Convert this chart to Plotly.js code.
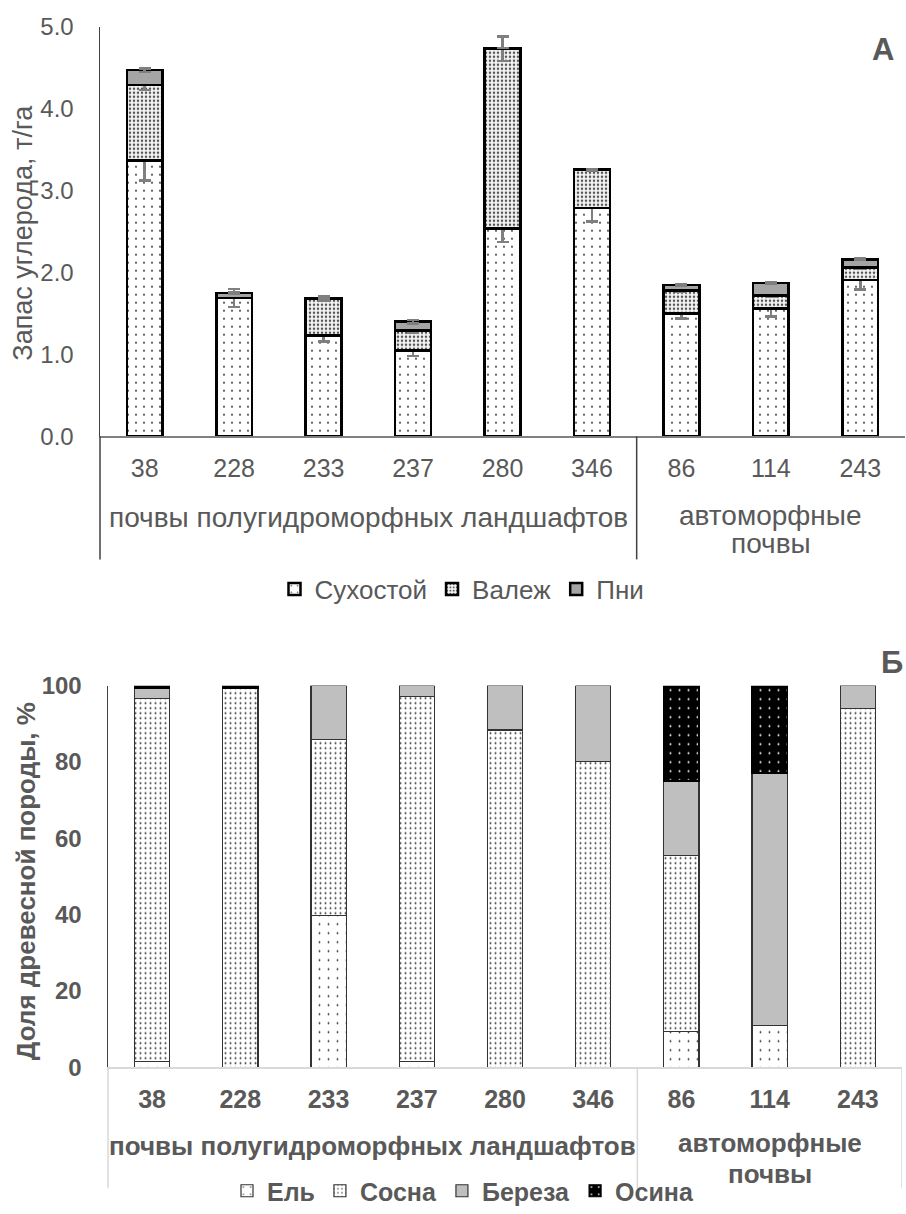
<!DOCTYPE html>
<html><head><meta charset="utf-8">
<script src="https://cdn.plot.ly/plotly-3.0.1.min.js"></script>
<style>html,body{margin:0;padding:0;background:#fff}#chart{width:906px;height:1214px}</style>
</head><body><div id="chart"></div>
<script>
// ---- data ----
const categories = ['38','228','233','237','280','346','86','114','243'];
const groupSemi = 'почвы полугидроморфных ландшафтов';
const groupAuto1 = 'автоморфные';
const groupAuto2 = 'почвы';

// Panel A: carbon stock, t/ha
const suhostoy    = [3.37, 1.69, 1.23, 1.05, 2.54, 2.79, 1.50, 1.56, 1.91];
const suhostoyErr = [0.25, 0.11, 0.07, 0.07, 0.17, 0.17, 0.06, 0.10, 0.12];
const valezh      = [0.92, 0.00, 0.45, 0.24, 2.19, 0.46, 0.28, 0.16, 0.15];
const valezhErr   = [0.06, 0.00, 0.03, 0.02, 0.15, 0.01, 0.02, 0.01, 0.02];
const pni         = [0.18, 0.06, 0.01, 0.11, 0.01, 0.01, 0.07, 0.15, 0.10];
const pniErr      = [0.02, 0.01, 0.01, 0.02, 0.00, 0.00, 0.01, 0.01, 0.01];

// Panel Б: tree species share, %
const el     = [1.5, 0.0, 39.8, 1.5, 0.0, 0.0, 9.3, 11.0, 0.0];
const sosna  = [95.1, 99.4, 46.1, 95.6, 88.4, 80.1, 46.2, 0.0, 94.1];
const bereza = [2.6, 0.0, 14.1, 2.9, 11.6, 19.9, 19.5, 66.1, 5.9];
const osina  = [0.8, 0.6, 0.0, 0.0, 0.0, 0.0, 25.0, 22.9, 0.0];

// ---- helpers ----
const W = 906, H = 1214;
const px = x => x / W;
const py = y => (H - y) / H;
const grey = '#595959';
const FONT = 'Arial, "Liberation Sans", sans-serif';

function errBar(arr){
  return {type:'data', array:arr, visible:true, color:'#7f7f7f', thickness:2.5, width:6};
}
const lineA = {color:'#000', width:2.5};
const lineB = {color:'#333', width:1.2};

const traces = [
  {type:'bar', name:'Сухостой', x:categories, y:suhostoy, xaxis:'x', yaxis:'y', legend:'legend',
   marker:{color:'#fff', line:lineA, pattern:{shape:'.', fgcolor:'#222', bgcolor:'#fff', size:8, solidity:0.04}},
   error_y:errBar(suhostoyErr), hoverinfo:'skip'},
  {type:'bar', name:'Валеж', x:categories, y:valezh, xaxis:'x', yaxis:'y', legend:'legend',
   marker:{color:'#fff', line:lineA, pattern:{shape:'.', fgcolor:'#555', bgcolor:'#f4f4f4', size:4, solidity:0.32}},
   error_y:errBar(valezhErr), hoverinfo:'skip'},
  {type:'bar', name:'Пни', x:categories, y:pni, xaxis:'x', yaxis:'y', legend:'legend',
   marker:{color:'#a5a5a5', line:lineA},
   error_y:errBar(pniErr), hoverinfo:'skip'},

  {type:'bar', name:'Ель', x:categories, y:el, xaxis:'x2', yaxis:'y2', legend:'legend2',
   marker:{color:'#fff', line:lineB, pattern:{shape:'.', fgcolor:'#222', bgcolor:'#fff', size:9, solidity:0.03}}, hoverinfo:'skip'},
  {type:'bar', name:'Сосна', x:categories, y:sosna, xaxis:'x2', yaxis:'y2', legend:'legend2',
   marker:{color:'#fff', line:lineB, pattern:{shape:'.', fgcolor:'#333', bgcolor:'#fff', size:5, solidity:0.12}}, hoverinfo:'skip'},
  {type:'bar', name:'Береза', x:categories, y:bereza, xaxis:'x2', yaxis:'y2', legend:'legend2',
   marker:{color:'#bfbfbf', line:lineB}, hoverinfo:'skip'},
  {type:'bar', name:'Осина', x:categories, y:osina, xaxis:'x2', yaxis:'y2', legend:'legend2',
   marker:{color:'#000', line:{color:'#000', width:1.2}, pattern:{shape:'.', fgcolor:'#fff', bgcolor:'#000', size:9, solidity:0.04}}, hoverinfo:'skip'}
];

const lightLine = {color:'#d9d9d9', width:1.5};
const darkLine = {color:'#404040', width:1.5};

const layout = {
  width:W, height:H, autosize:false,
  margin:{l:0, r:0, t:0, b:0},
  paper_bgcolor:'#fff', plot_bgcolor:'rgba(0,0,0,0)',
  font:{family:FONT, color:grey},
  barmode:'stack', bargap:0.6,
  showlegend:true,
  xaxis:{domain:[px(100), px(905)], anchor:'y', type:'category', range:[-0.5, 8.5],
         showline:true, linecolor:'#808080', linewidth:1.5, ticks:'', showgrid:false,
         tickfont:{size:25, color:grey}, ticklabelstandoff:9, fixedrange:true},
  yaxis:{domain:[py(440.7), py(27)], anchor:'x', range:[0,5], dtick:1, tickformat:'.1f',
         showline:true, linecolor:'#404040', linewidth:1.5, showgrid:false, zeroline:false, ticks:'',
         tickfont:{size:24, color:grey}, ticklabelstandoff:20, fixedrange:true},
  xaxis2:{domain:[px(108), px(902)], anchor:'y2', type:'category', range:[-0.5, 8.5],
         showline:true, linecolor:'#d9d9d9', linewidth:1.5, ticks:'', showgrid:false,
         tickfont:{size:25, color:grey, weight:'bold'}, ticklabelstandoff:9, fixedrange:true},
  yaxis2:{domain:[py(1078), py(692.5)], anchor:'x2', range:[0,100], dtick:20,
         showline:true, linecolor:'#404040', linewidth:1.5, showgrid:false, zeroline:false, ticks:'',
         tickfont:{size:24, color:grey, weight:'bold'}, ticklabelstandoff:20, fixedrange:true},
  legend:{orientation:'h', x:px(462), xanchor:'center', y:py(595), yanchor:'middle',
          font:{size:26, color:grey}, traceorder:'normal', bgcolor:'rgba(0,0,0,0)', itemwidth:30},
  legend2:{orientation:'h', x:px(463), xanchor:'center', y:py(1203), yanchor:'middle',
          font:{size:25, color:grey, weight:'bold'}, traceorder:'normal', bgcolor:'rgba(0,0,0,0)', itemwidth:30},
  shapes:[
    {type:'line', xref:'paper', yref:'paper', x0:px(100), x1:px(100), y0:py(440.7), y1:py(565), line:darkLine},
    {type:'line', xref:'x', yref:'paper', x0:5.5, x1:5.5, y0:py(440.7), y1:py(565), line:darkLine},
    {type:'line', xref:'paper', yref:'paper', x0:px(108), x1:px(108), y0:py(1078), y1:py(1200), line:lightLine},
    {type:'line', xref:'x2', yref:'paper', x0:5.5, x1:5.5, y0:py(1078), y1:py(1200), line:lightLine},
    {type:'line', xref:'x2', yref:'paper', x0:8.5, x1:8.5, y0:py(1078), y1:py(1200), line:lightLine}
  ],
  annotations:[
    {xref:'x', yref:'paper', x:2.5, y:py(523), text:groupSemi, showarrow:false, xanchor:'center', yanchor:'middle', font:{size:28, color:grey}},
    {xref:'x', yref:'paper', x:7, y:py(521), text:groupAuto1, showarrow:false, xanchor:'center', yanchor:'middle', font:{size:28, color:grey}},
    {xref:'x', yref:'paper', x:7, y:py(549), text:groupAuto2, showarrow:false, xanchor:'center', yanchor:'middle', font:{size:28, color:grey}},
    {xref:'x2', yref:'paper', x:2.5, y:py(1157), text:groupSemi, showarrow:false, xanchor:'center', yanchor:'middle', font:{size:26, color:grey, weight:'bold'}},
    {xref:'x2', yref:'paper', x:7, y:py(1154), text:groupAuto1, showarrow:false, xanchor:'center', yanchor:'middle', font:{size:26, color:grey, weight:'bold'}},
    {xref:'x2', yref:'paper', x:7, y:py(1186), text:groupAuto2, showarrow:false, xanchor:'center', yanchor:'middle', font:{size:26, color:grey, weight:'bold'}},
    {xref:'paper', yref:'paper', x:px(23), y:py(235), text:'Запас углерода, т/га', textangle:-90, showarrow:false, xanchor:'center', yanchor:'middle', font:{size:27, color:grey}},
    {xref:'paper', yref:'paper', x:px(26), y:py(890), text:'Доля древесной породы, %', textangle:-90, showarrow:false, xanchor:'center', yanchor:'middle', font:{size:26, color:grey, weight:'bold'}},
    {xref:'paper', yref:'paper', x:px(883), y:py(50), text:'А', showarrow:false, xanchor:'center', yanchor:'middle', font:{size:31, color:grey, weight:'bold'}},
    {xref:'paper', yref:'paper', x:px(905), y:py(669), text:'Б', showarrow:false, xanchor:'right', yanchor:'middle', font:{size:31, color:grey, weight:'bold'}}
  ]
};

Plotly.newPlot('chart', traces, layout, {staticPlot:true, displayModeBar:false});
</script>
</body></html>
